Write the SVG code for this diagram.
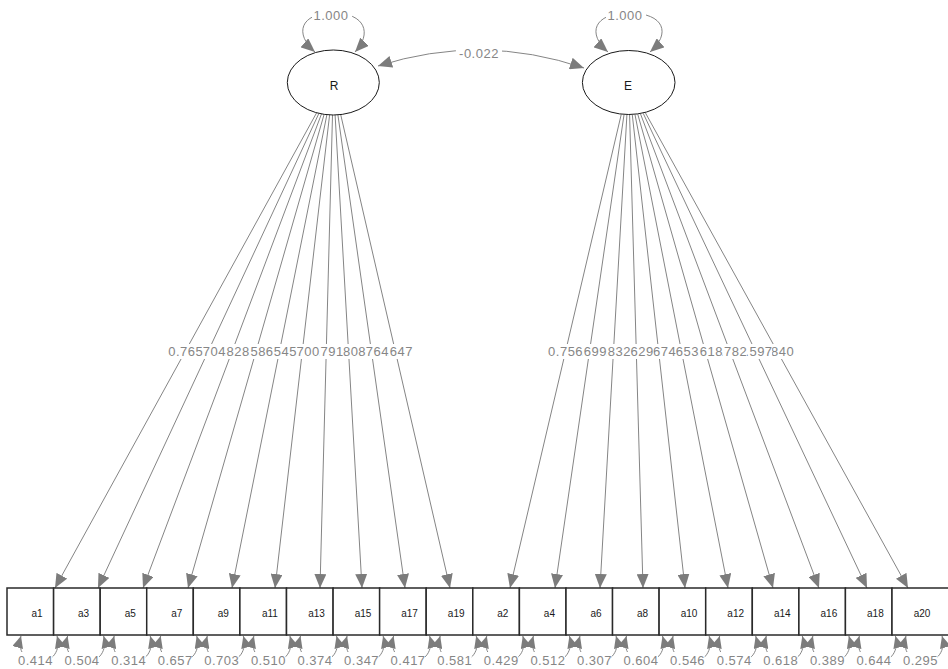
<svg xmlns="http://www.w3.org/2000/svg" xmlns:xlink="http://www.w3.org/1999/xlink" width="948" height="669" viewBox="0 0 948 669">
  <style>
    text { font-family: "Liberation Sans", Arial, sans-serif; }
    .edge { stroke: #858585; stroke-width: 1; fill: none; marker-end: url(#ah); }
    .curve { stroke: #858585; stroke-width: 1; fill: none; marker-start: url(#ah); marker-end: url(#ah); }
    .res { stroke: #858585; stroke-width: 1; fill: none; marker-start: url(#ahs); marker-end: url(#ahs); }
    .bg { fill: #ffffff; }
    .lbl { font-size: 13px; fill: #868686; text-anchor: middle; letter-spacing: 0.5px; }
    .box { fill: #ffffff; stroke: #2a2a2a; stroke-width: 1.5; }
    .lat { fill: #ffffff; stroke: #1a1a1a; stroke-width: 1; }
    .nt { font-size: 10px; fill: #1a1a1a; text-anchor: middle; }
    .lt { font-size: 12px; fill: #1a1a1a; text-anchor: middle; }
  </style>
  <defs>
    <marker id="ah" viewBox="0 0 14 12" refX="14" refY="6" markerWidth="14" markerHeight="12" markerUnits="userSpaceOnUse" orient="auto-start-reverse">
      <path d="M0,0 L14,6 L0,12 z" fill="#7c7c7c"/>
    </marker>
    <marker id="ahs" viewBox="0 0 12 11" refX="12" refY="5.5" markerWidth="12" markerHeight="11" markerUnits="userSpaceOnUse" orient="auto-start-reverse">
      <path d="M0,0 L12,5.5 L0,11 z" fill="#7c7c7c"/>
    </marker>
    <!-- residual variance loop under a box, centred on x=0 -->
    <path id="rloop" class="res" d="M-18,636 C-22,650 -14,662 0,662 C14,662 22,650 18,636"/>
  </defs>

  <!-- factor loadings and factor covariance -->
  <g id="connectors">
    <line class="edge" x1="316.6" y1="112.8" x2="55" y2="588"/>
    <line class="edge" x1="318.9" y1="113.4" x2="98" y2="588"/>
    <line class="edge" x1="321.5" y1="113.9" x2="143" y2="588"/>
    <line class="edge" x1="324.1" y1="114.4" x2="188" y2="588"/>
    <line class="edge" x1="326.9" y1="114.7" x2="232" y2="588"/>
    <line class="edge" x1="329.6" y1="114.9" x2="275" y2="588"/>
    <line class="edge" x1="332.5" y1="115" x2="320" y2="588"/>
    <line class="edge" x1="335.1" y1="115" x2="362" y2="588"/>
    <line class="edge" x1="337.9" y1="114.8" x2="405" y2="588"/>
    <line class="edge" x1="340.7" y1="114.6" x2="450" y2="588"/>

    <line class="edge" x1="621.2" y1="114.6" x2="510" y2="588"/>
    <line class="edge" x1="624" y1="114.8" x2="555" y2="588"/>
    <line class="edge" x1="626.9" y1="115" x2="600" y2="588"/>
    <line class="edge" x1="629.6" y1="115" x2="643" y2="588"/>
    <line class="edge" x1="632.3" y1="114.9" x2="685" y2="588"/>
    <line class="edge" x1="635" y1="114.7" x2="728" y2="588"/>
    <line class="edge" x1="637.8" y1="114.4" x2="773" y2="588"/>
    <line class="edge" x1="640.5" y1="113.9" x2="819" y2="588"/>
    <line class="edge" x1="643.2" y1="113.3" x2="867" y2="588"/>
    <line class="edge" x1="645.4" y1="112.8" x2="908" y2="588"/>

    <path class="curve" d="M378,66 Q481,33 584,68"/>
    <rect class="bg" x="456" y="45" width="46" height="15"/>
    <text class="lbl" x="479" y="57.5">-0.022</text>

    <!-- loading labels, drawn last-to-first so the first one sits on top -->
    <g id="loading-labels">
      <rect class="bg" x="378.4" y="344" width="34" height="15"/><text class="lbl" x="395.4" y="355.5">0.647</text>
      <rect class="bg" x="354.4" y="344" width="34" height="15"/><text class="lbl" x="371.4" y="355.5">0.764</text>
      <rect class="bg" x="331.6" y="344" width="34" height="15"/><text class="lbl" x="348.6" y="355.5">0.808</text>
      <rect class="bg" x="309.2" y="344" width="34" height="15"/><text class="lbl" x="326.2" y="355.5">0.791</text>
      <rect class="bg" x="285.3" y="344" width="34" height="15"/><text class="lbl" x="302.3" y="355.5">0.700</text>
      <rect class="bg" x="262.4" y="344" width="34" height="15"/><text class="lbl" x="279.4" y="355.5">0.545</text>
      <rect class="bg" x="239.1" y="344" width="34" height="15"/><text class="lbl" x="256.1" y="355.5">0.586</text>
      <rect class="bg" x="215.2" y="344" width="34" height="15"/><text class="lbl" x="232.2" y="355.5">0.828</text>
      <rect class="bg" x="191.5" y="344" width="34" height="15"/><text class="lbl" x="208.5" y="355.5">0.704</text>
      <rect class="bg" x="168.8" y="344" width="34" height="15"/><text class="lbl" x="185.8" y="355.5">0.765</text>

      <rect class="bg" x="759.7" y="344" width="34" height="15"/><text class="lbl" x="776.7" y="355.5">0.840</text>
      <rect class="bg" x="738.1" y="344" width="34" height="15"/><text class="lbl" x="755.1" y="355.5">0.597</text>
      <rect class="bg" x="712.8" y="344" width="34" height="15"/><text class="lbl" x="729.8" y="355.5">0.782</text>
      <rect class="bg" x="688.4" y="344" width="34" height="15"/><text class="lbl" x="705.4" y="355.5">0.618</text>
      <rect class="bg" x="664.5" y="344" width="34" height="15"/><text class="lbl" x="681.5" y="355.5">0.653</text>
      <rect class="bg" x="641.7" y="344" width="34" height="15"/><text class="lbl" x="658.7" y="355.5">0.674</text>
      <rect class="bg" x="619.3" y="344" width="34" height="15"/><text class="lbl" x="636.3" y="355.5">0.629</text>
      <rect class="bg" x="596.4" y="344" width="34" height="15"/><text class="lbl" x="613.4" y="355.5">0.832</text>
      <rect class="bg" x="572.5" y="344" width="34" height="15"/><text class="lbl" x="589.5" y="355.5">0.699</text>
      <rect class="bg" x="548.6" y="344" width="34" height="15"/><text class="lbl" x="565.6" y="355.5">0.756</text>
    </g>
  </g>

  <!-- latent factors with their variance loops -->
  <g id="R">
    <ellipse class="lat" cx="333.3" cy="82.5" rx="46" ry="32.5"/>
    <text class="lt" x="334" y="90">R</text>
    <path class="curve" d="M315,52 C294,34 300,13 333,13 C366,13 372,34 355,52"/>
    <rect class="bg" x="312" y="7" width="40" height="15"/>
    <text class="lbl" x="331" y="20">1.000</text>
  </g>
  <g id="E">
    <ellipse class="lat" cx="628.7" cy="82.5" rx="46.3" ry="32"/>
    <text class="lt" x="628" y="90">E</text>
    <path class="curve" d="M608,52 C587,34 593,13 629,13 C665,13 671,34 650,52"/>
    <rect class="bg" x="606" y="7" width="40" height="15"/>
    <text class="lbl" x="625" y="20">1.000</text>
  </g>

  <!-- observed indicators with residual variances -->
  <g id="a1"><rect class="box" x="7" y="588" width="46.6" height="47"/><text class="nt" x="37" y="616.5">a1</text><use xlink:href="#rloop" x="39"/><rect class="bg" x="18.5" y="652" width="34" height="15"/><text class="lbl" x="35.5" y="664.5">0.414</text></g>
  <g id="a3"><rect class="box" x="53.6" y="588" width="46.6" height="47"/><text class="nt" x="83.6" y="616.5">a3</text><use xlink:href="#rloop" x="85.6"/><rect class="bg" x="65.1" y="652" width="34" height="15"/><text class="lbl" x="82.1" y="664.5">0.504</text></g>
  <g id="a5"><rect class="box" x="100.2" y="588" width="46.6" height="47"/><text class="nt" x="130.2" y="616.5">a5</text><use xlink:href="#rloop" x="132.2"/><rect class="bg" x="111.7" y="652" width="34" height="15"/><text class="lbl" x="128.7" y="664.5">0.314</text></g>
  <g id="a7"><rect class="box" x="146.7" y="588" width="46.6" height="47"/><text class="nt" x="176.7" y="616.5">a7</text><use xlink:href="#rloop" x="178.7"/><rect class="bg" x="158.2" y="652" width="34" height="15"/><text class="lbl" x="175.2" y="664.5">0.657</text></g>
  <g id="a9"><rect class="box" x="193.3" y="588" width="46.6" height="47"/><text class="nt" x="223.3" y="616.5">a9</text><use xlink:href="#rloop" x="225.3"/><rect class="bg" x="204.8" y="652" width="34" height="15"/><text class="lbl" x="221.8" y="664.5">0.703</text></g>
  <g id="a11"><rect class="box" x="239.9" y="588" width="46.6" height="47"/><text class="nt" x="269.9" y="616.5">a11</text><use xlink:href="#rloop" x="271.9"/><rect class="bg" x="251.4" y="652" width="34" height="15"/><text class="lbl" x="268.4" y="664.5">0.510</text></g>
  <g id="a13"><rect class="box" x="286.5" y="588" width="46.6" height="47"/><text class="nt" x="316.5" y="616.5">a13</text><use xlink:href="#rloop" x="318.5"/><rect class="bg" x="298" y="652" width="34" height="15"/><text class="lbl" x="315" y="664.5">0.374</text></g>
  <g id="a15"><rect class="box" x="333.1" y="588" width="46.6" height="47"/><text class="nt" x="363.1" y="616.5">a15</text><use xlink:href="#rloop" x="365.1"/><rect class="bg" x="344.6" y="652" width="34" height="15"/><text class="lbl" x="361.6" y="664.5">0.347</text></g>
  <g id="a17"><rect class="box" x="379.6" y="588" width="46.6" height="47"/><text class="nt" x="409.6" y="616.5">a17</text><use xlink:href="#rloop" x="411.6"/><rect class="bg" x="391.1" y="652" width="34" height="15"/><text class="lbl" x="408.1" y="664.5">0.417</text></g>
  <g id="a19"><rect class="box" x="426.2" y="588" width="46.6" height="47"/><text class="nt" x="456.2" y="616.5">a19</text><use xlink:href="#rloop" x="458.2"/><rect class="bg" x="437.7" y="652" width="34" height="15"/><text class="lbl" x="454.7" y="664.5">0.581</text></g>
  <g id="a2"><rect class="box" x="472.8" y="588" width="46.6" height="47"/><text class="nt" x="502.8" y="616.5">a2</text><use xlink:href="#rloop" x="504.8"/><rect class="bg" x="484.3" y="652" width="34" height="15"/><text class="lbl" x="501.3" y="664.5">0.429</text></g>
  <g id="a4"><rect class="box" x="519.4" y="588" width="46.6" height="47"/><text class="nt" x="549.4" y="616.5">a4</text><use xlink:href="#rloop" x="551.4"/><rect class="bg" x="530.9" y="652" width="34" height="15"/><text class="lbl" x="547.9" y="664.5">0.512</text></g>
  <g id="a6"><rect class="box" x="566" y="588" width="46.6" height="47"/><text class="nt" x="596" y="616.5">a6</text><use xlink:href="#rloop" x="598"/><rect class="bg" x="577.5" y="652" width="34" height="15"/><text class="lbl" x="594.5" y="664.5">0.307</text></g>
  <g id="a8"><rect class="box" x="612.5" y="588" width="46.6" height="47"/><text class="nt" x="642.5" y="616.5">a8</text><use xlink:href="#rloop" x="644.5"/><rect class="bg" x="624" y="652" width="34" height="15"/><text class="lbl" x="641" y="664.5">0.604</text></g>
  <g id="a10"><rect class="box" x="659.1" y="588" width="46.6" height="47"/><text class="nt" x="689.1" y="616.5">a10</text><use xlink:href="#rloop" x="691.1"/><rect class="bg" x="670.6" y="652" width="34" height="15"/><text class="lbl" x="687.6" y="664.5">0.546</text></g>
  <g id="a12"><rect class="box" x="705.7" y="588" width="46.6" height="47"/><text class="nt" x="735.7" y="616.5">a12</text><use xlink:href="#rloop" x="737.7"/><rect class="bg" x="717.2" y="652" width="34" height="15"/><text class="lbl" x="734.2" y="664.5">0.574</text></g>
  <g id="a14"><rect class="box" x="752.3" y="588" width="46.6" height="47"/><text class="nt" x="782.3" y="616.5">a14</text><use xlink:href="#rloop" x="784.3"/><rect class="bg" x="763.8" y="652" width="34" height="15"/><text class="lbl" x="780.8" y="664.5">0.618</text></g>
  <g id="a16"><rect class="box" x="798.9" y="588" width="46.6" height="47"/><text class="nt" x="828.9" y="616.5">a16</text><use xlink:href="#rloop" x="830.9"/><rect class="bg" x="810.4" y="652" width="34" height="15"/><text class="lbl" x="827.4" y="664.5">0.389</text></g>
  <g id="a18"><rect class="box" x="845.4" y="588" width="46.6" height="47"/><text class="nt" x="875.4" y="616.5">a18</text><use xlink:href="#rloop" x="877.4"/><rect class="bg" x="856.9" y="652" width="34" height="15"/><text class="lbl" x="873.9" y="664.5">0.644</text></g>
  <g id="a20"><rect class="box" x="892" y="588" width="60" height="47"/><text class="nt" x="922" y="616.5">a20</text><use xlink:href="#rloop" x="924"/><rect class="bg" x="903.5" y="652" width="34" height="15"/><text class="lbl" x="920.5" y="664.5">0.295</text></g>
</svg>
